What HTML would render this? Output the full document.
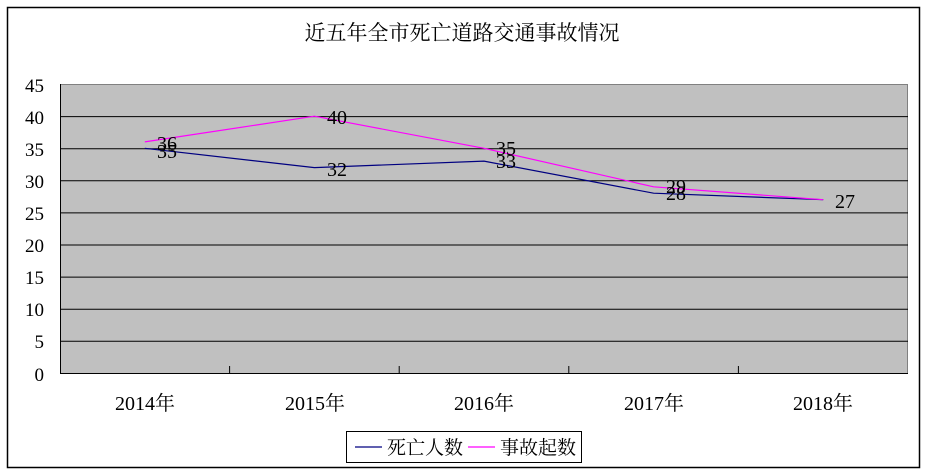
<!DOCTYPE html>
<html><head><meta charset="utf-8"><style>
body{margin:0;background:#fff;}
</style></head><body>
<svg width="928" height="475" xmlns="http://www.w3.org/2000/svg" style="display:block;font-family:'Liberation Serif','Noto Serif CJK SC',serif">
<rect x="0" y="0" width="928" height="475" fill="#fff"/>
<rect x="7.5" y="7.5" width="912" height="460" fill="#fff" stroke="#000" stroke-width="1.5"/>
<text x="462" y="40" font-size="21" text-anchor="middle" fill="#000">近五年全市死亡道路交通事故情况</text>
<rect x="60.5" y="84.5" width="847" height="289" fill="#c0c0c0" stroke="#808080" stroke-width="1"/>
<g stroke="#000" stroke-width="1">
<line x1="60" y1="116.6" x2="908" y2="116.6"/>
<line x1="60" y1="148.7" x2="908" y2="148.7"/>
<line x1="60" y1="180.8" x2="908" y2="180.8"/>
<line x1="60" y1="212.9" x2="908" y2="212.9"/>
<line x1="60" y1="245" x2="908" y2="245"/>
<line x1="60" y1="277.1" x2="908" y2="277.1"/>
<line x1="60" y1="309.2" x2="908" y2="309.2"/>
<line x1="60" y1="341.3" x2="908" y2="341.3"/>
<line x1="60.5" y1="84" x2="60.5" y2="374"/>
<line x1="60" y1="373.5" x2="908" y2="373.5"/>
<line x1="229.6" y1="366" x2="229.6" y2="374"/>
<line x1="399.2" y1="366" x2="399.2" y2="374"/>
<line x1="568.8" y1="366" x2="568.8" y2="374"/>
<line x1="738.4" y1="366" x2="738.4" y2="374"/>
</g>
<g font-size="19" text-anchor="end" fill="#000">
<text x="44" y="92">45</text><text x="44" y="124">40</text><text x="44" y="156">35</text>
<text x="44" y="188">30</text><text x="44" y="220">25</text><text x="44" y="252">20</text>
<text x="44" y="284">15</text><text x="44" y="316">10</text><text x="44" y="348">5</text>
<text x="44" y="381">0</text>
</g>
<g font-size="20" text-anchor="middle" fill="#000">
<text x="145" y="410">2014年</text><text x="315" y="410">2015年</text><text x="484" y="410">2016年</text>
<text x="654" y="410">2017年</text><text x="823" y="410">2018年</text>
</g>
<polyline fill="none" stroke="#000080" stroke-width="1.2" points="144.8,148.3 314.4,167.6 484,161.1 653.6,193.2 823.2,199.7"/>
<polyline fill="none" stroke="#ff00ff" stroke-width="1.2" points="144.8,141.9 314.4,116.2 484,148.3 653.6,186.8 823.2,199.7"/>
<g font-size="20" fill="#000">
<text x="157" y="150">36</text><text x="157" y="158">35</text>
<text x="327" y="124">40</text><text x="327" y="176">32</text>
<text x="496" y="155">35</text><text x="496" y="168">33</text>
<text x="666" y="193">29</text><text x="666" y="200">28</text>
<text x="835" y="208">27</text>
</g>
<rect x="346.5" y="431.5" width="235" height="31" fill="#fff" stroke="#000" stroke-width="1"/>
<line x1="355" y1="447" x2="382" y2="447" stroke="#000080" stroke-width="1.2"/>
<text x="387" y="454" font-size="19" fill="#000">死亡人数</text>
<line x1="468" y1="447" x2="495" y2="447" stroke="#ff00ff" stroke-width="1.2"/>
<text x="500" y="454" font-size="19" fill="#000">事故起数</text>
</svg>
</body></html>
